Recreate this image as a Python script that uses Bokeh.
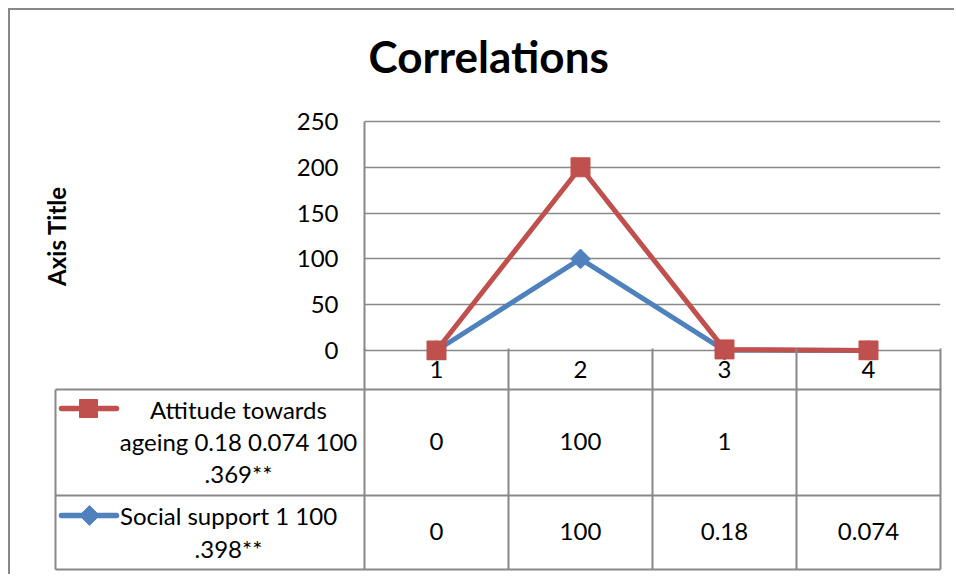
import textwrap
from math import pi
from bokeh.plotting import figure
from bokeh.models import Range1d, FixedTicker, LinearAxis
from bokeh.core.properties import value
from bokeh.embed import file_html
from bokeh.resources import INLINE

# ---------------- data ----------------
title_text = "Correlations"
y_axis_title = "Axis Title"
categories = ["1", "2", "3", "4"]
y_ticks = [0, 50, 100, 150, 200, 250]
attitude_name = "Attitude towards ageing 0.18 0.074 100 .369**"
attitude_values = [0, 100, 1, None]
social_name = "Social support 1 100 .398**"
social_values = [0, 100, 0.18, 0.074]

# ---------------- style ----------------
RED = "#C0504D"
BLUE = "#4F81BD"
GRID = "#888888"
FONT = "Lato"
LW = 5

xs = [i + 1 for i in range(len(categories))]
bounds = [x - 0.5 for x in xs] + [xs[-1] + 0.5]
# Excel "stacked line": attitude series is stacked on social support
social_plot = [v or 0 for v in social_values]
attitude_plot = [s + (a or 0) for s, a in zip(social_plot, attitude_values)]


def fmt(v):
    return "" if v is None else f"{v:g}"


# page-pixel layout helpers
OX = 10            # page px of canvas origin (8px css margin + 2px border)
OY = 10
W = 946            # canvas page x 10 .. 956
PX_PER_CAT = 144.0
PX_PER_Y = (350 - 121) / 250.0
Y250, Y0 = 121, 350          # page y of the 250 and 0 gridlines
FRAME_TOP = 111              # chart frame (slightly above the 250 line)
FRAME_BOTTOM = 360           # chart frame (slightly below 0 so markers show)
A_BOTTOM = 368               # chart canvas bottom
A_H = A_BOTTOM - OY
B_TOP = 350                  # table canvas start (overlaps chart canvas, transparent)
B_FRAME_TOP = 391
B_BOTTOM = 576
B_H = B_BOTTOM - B_TOP

BASE_STYLE = {"margin-left": "8px", "border-left": "2px solid #888888",
              "border-right": "0px none", "border-bottom": "0px none",
              "outline": "none", "box-shadow": "none"}


def x_of(page_x):
    return 0.5 + (page_x - 364) / PX_PER_CAT


# ---------------- chart figure ----------------
pa = figure(width=W, height=A_H, output_backend="svg", toolbar_location=None,
            x_range=Range1d(0.5, 4.5),
            y_range=Range1d(250 - (FRAME_BOTTOM - Y250) / PX_PER_Y,
                            250 + (Y250 - FRAME_TOP) / PX_PER_Y),
            x_axis_location=None,
            min_border_left=364 - OX, min_border_right=OX + W - 940,
            min_border_top=FRAME_TOP - OY, min_border_bottom=A_BOTTOM - FRAME_BOTTOM)
pa.styles = dict(BASE_STYLE, **{"margin-top": "8px", "border-top": "2px solid #888888"})
pa.outline_line_color = None
pa.xgrid.visible = False

ya = pa.yaxis[0]
ya.ticker = FixedTicker(ticks=y_ticks)
ya.bounds = (y_ticks[0], y_ticks[-1])
ya.major_tick_out = 0
ya.major_tick_in = 0
ya.minor_tick_out = 0
ya.minor_tick_in = 0
ya.axis_line_color = GRID
ya.axis_line_width = 2
ya.major_label_text_font = FONT
ya.major_label_text_font_size = "24px"
ya.major_label_text_color = "black"
ya.major_label_standoff = 26
ya.axis_label = y_axis_title
ya.axis_label_text_font = FONT
ya.axis_label_text_font_style = "bold"
ya.axis_label_text_font_size = "24px"
ya.axis_label_text_color = "black"
ya.axis_label_standoff = 223

pa.ygrid.grid_line_color = GRID
pa.ygrid.grid_line_width = 1.5

# invisible spacer between title and plot area
spacer = LinearAxis(ticker=FixedTicker(ticks=[xs[0]]), axis_line_color=None,
                    major_tick_out=21, major_tick_in=0, minor_tick_out=0, minor_tick_in=0,
                    major_tick_line_color="white", minor_tick_line_color=None,
                    major_label_standoff=0, major_label_text_font_size="1px",
                    major_label_text_color="white",
                    major_label_overrides={xs[0]: " "})
pa.add_layout(spacer, "above")

pa.title.text = title_text
pa.title.align = "left"
pa.title.offset = 4
pa.title.vertical_align = "bottom"
pa.title.standoff = 10
pa.title.text_font = FONT
pa.title.text_font_size = "44px"
pa.title.text_font_style = "bold"
pa.title.text_color = "black"

pa.line(xs, social_plot, line_color=BLUE, line_width=LW, line_join="round", line_cap="round")
pa.scatter(xs, social_plot, marker="square", angle=pi / 4, size=14, fill_color=BLUE, line_color=BLUE)
pa.line(xs, attitude_plot, line_color=RED, line_width=LW, line_join="round", line_cap="round")
pa.scatter(xs, attitude_plot, marker="square", size=19, fill_color=RED, line_color=RED)

# ---------------- data table figure (with category axis) ----------------
TBL_H = B_BOTTOM - B_FRAME_TOP
pb = figure(width=W, height=B_H, output_backend="svg", toolbar_location=None,
            x_range=Range1d(x_of(OX), x_of(OX + W)), y_range=Range1d(TBL_H, 0),
            x_axis_location="above", y_axis_location=None,
            min_border=0, min_border_left=0, min_border_right=0,
            min_border_top=B_FRAME_TOP - B_TOP, min_border_bottom=0)
pb.styles = dict(BASE_STYLE, **{"margin-top": f"{B_TOP - A_BOTTOM}px"})
pb.outline_line_color = None
pb.border_fill_color = None
pb.background_fill_color = None
pb.xgrid.visible = False
pb.ygrid.visible = False

left_edge = x_of(55)
xb = pb.xaxis[0]
xb.ticker = FixedTicker(ticks=xs, minor_ticks=bounds)
xb.bounds = (left_edge, bounds[-1] + 0.005)
xb.major_label_overrides = {x: c for x, c in zip(xs, categories)}
xb.major_tick_out = 0
xb.major_tick_in = 0
xb.minor_tick_out = B_FRAME_TOP - Y0
xb.minor_tick_in = 0
xb.minor_tick_line_color = GRID
xb.minor_tick_line_width = 2
xb.axis_line_color = GRID
xb.axis_line_width = 2
xb.major_label_text_font = FONT
xb.major_label_text_font_size = "24px"
xb.major_label_text_color = "black"
xb.major_label_standoff = -29

MID, BOT = 106, 180
h_ys = [MID, BOT]
pb.segment(x0=[left_edge] * 2, y0=h_ys, x1=[bounds[-1]] * 2, y1=h_ys,
           line_color=GRID, line_width=2)
v_xs = [left_edge] + bounds
pb.segment(x0=v_xs, y0=[0] * len(v_xs), x1=v_xs, y1=[BOT] * len(v_xs),
           line_color=GRID, line_width=2)

txt = dict(text_font=value(FONT), text_font_size="24px", text_color="black",
           text_align="center", text_baseline="middle")

rows = [
    (attitude_name, attitude_values, RED, 52, 19, [20, 52, 84], 238),
    (social_name, social_values, BLUE, 142, 126, [126, 159], 228),
]
for name, vals, color, yc, key_y, line_ys, cx in rows:
    pb.text(x=xs, y=[yc] * len(xs), text=[fmt(v) for v in vals], **txt)
    lines = textwrap.wrap(name, 21)
    pb.text(x=[x_of(cx)] * len(lines), y=line_ys[:len(lines)], text=lines, **txt)
    pb.line([x_of(61), x_of(116)], [key_y, key_y], line_color=color, line_width=5.5, line_cap="round")
    if color == RED:
        pb.scatter([x_of(88)], [key_y], marker="square", size=18, fill_color=color, line_color=color)
    else:
        pb.scatter([x_of(89)], [key_y], marker="square", angle=pi / 4, size=14,
                   fill_color=color, line_color=color)

open("out.html", "w").write(file_html([pa, pb], INLINE))
